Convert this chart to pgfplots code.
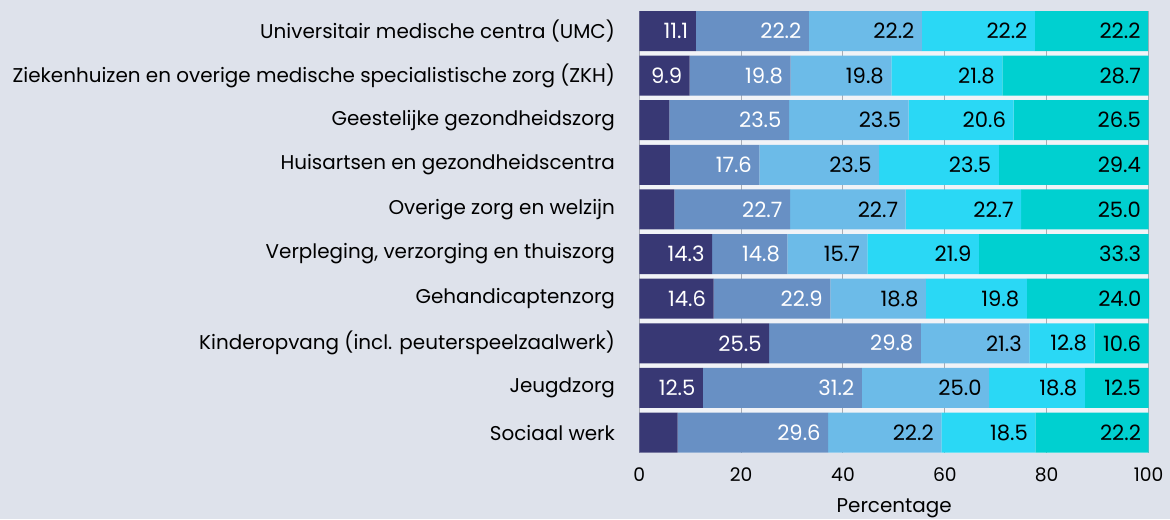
\documentclass[border=0pt]{standalone}
\usepackage{fontspec}
\setmainfont{Poppins}
\usepackage{pgfplots}
\pgfplotsset{compat=1.18}

\definecolor{bgc}{HTML}{DEE2EB}
\definecolor{gapc}{HTML}{F1F3F7}
\definecolor{gridc}{HTML}{A9ADB5}
\definecolor{c1}{HTML}{383874}
\definecolor{c2}{HTML}{6890C4}
\definecolor{c3}{HTML}{6CBBE8}
\definecolor{c4}{HTML}{2AD8F5}
\definecolor{c5}{HTML}{00D0D0}
\newcommand{\catfont}{\fontsize{10}{12}\selectfont}
\newcommand{\tickfont}{\fontsize{9.4}{11}\selectfont}
\newcommand{\valfont}{\fontsize{10.6}{12}\selectfont}

\begin{document}
\begin{tikzpicture}[x=1bp,y=1bp]
\fill[bgc] (0,0) rectangle (585,-259.5);
\begin{axis}[
    at={(319.65bp,-226.25bp)}, anchor=south west,
    scale only axis,
    width=254.85bp, height=220.75bp,
    xbar stacked,
    bar width=0.897,
    y dir=reverse,
    ymin=-0.4484, ymax=9.4484,
    xmin=0, xmax=100.1,
    xtick={0,20,...,100},
    ytick={0,...,9},
    yticklabels={
        Universitair medische centra (UMC),
        Ziekenhuizen en overige medische specialistische zorg (ZKH),
        Geestelijke gezondheidszorg,
        Huisartsen en gezondheidscentra,
        Overige zorg en welzijn,
        {Verpleging, verzorging en thuiszorg},
        Gehandicaptenzorg,
        Kinderopvang (incl. peuterspeelzaalwerk),
        Jeugdzorg,
        Sociaal werk},
    axis line style={draw=none},
    major tick style={draw=none},
    axis background/.style={fill=gapc},
    xmajorgrids,
    grid style={gridc, line width=0.5bp},
    /pgf/number format/assume math mode=true,
    yticklabel style={font=\catfont, inner sep=0pt, anchor=east, xshift=-12bp},
    xticklabel style={font=\tickfont, inner sep=0pt, anchor=north, yshift=-7.5bp},
    xlabel={Percentage},
    xlabel style={font=\catfont, inner sep=0pt, anchor=north,
        at={(axis description cs:0.5,0)}, yshift=-23bp},
    point meta=explicit symbolic,
    visualization depends on=rawx \as \rawx,
    nodes near coords,
    every node near coord/.append style={anchor=east,
        xshift={(1.2734*\rawx-3.6)*1bp},
        inner sep=0pt, font=\valfont},
]
\addplot[fill=c1, draw=none, every node near coord/.append style={text=white}] coordinates {
    (11.1,0) [11.1] (9.9,1) [9.9] (5.9,2) [] (6.0,3) [] (6.9,4) []
    (14.3,5) [14.3] (14.6,6) [14.6] (25.5,7) [25.5] (12.5,8) [12.5] (7.5,9) []
};
\addplot[fill=c2, draw=none, every node near coord/.append style={text=white}] coordinates {
    (22.2,0) [22.2] (19.8,1) [19.8] (23.5,2) [23.5] (17.6,3) [17.6] (22.7,4) [22.7]
    (14.8,5) [14.8] (22.9,6) [22.9] (29.8,7) [29.8] (31.2,8) [31.2] (29.6,9) [29.6]
};
\addplot[fill=c3, draw=none, every node near coord/.append style={text=black}] coordinates {
    (22.2,0) [22.2] (19.8,1) [19.8] (23.5,2) [23.5] (23.5,3) [23.5] (22.7,4) [22.7]
    (15.7,5) [15.7] (18.8,6) [18.8] (21.3,7) [21.3] (25.0,8) [25.0] (22.2,9) [22.2]
};
\addplot[fill=c4, draw=none, every node near coord/.append style={text=black}] coordinates {
    (22.2,0) [22.2] (21.8,1) [21.8] (20.6,2) [20.6] (23.5,3) [23.5] (22.7,4) [22.7]
    (21.9,5) [21.9] (19.8,6) [19.8] (12.8,7) [12.8] (18.8,8) [18.8] (18.5,9) [18.5]
};
\addplot[fill=c5, draw=none, every node near coord/.append style={text=black}] coordinates {
    (22.2,0) [22.2] (28.7,1) [28.7] (26.5,2) [26.5] (29.4,3) [29.4] (25.0,4) [25.0]
    (33.3,5) [33.3] (24.0,6) [24.0] (10.6,7) [10.6] (12.5,8) [12.5] (22.2,9) [22.2]
};
\end{axis}
\pgfresetboundingbox
\path (0,0) rectangle (585,-259.5);
\end{tikzpicture}
\end{document}
